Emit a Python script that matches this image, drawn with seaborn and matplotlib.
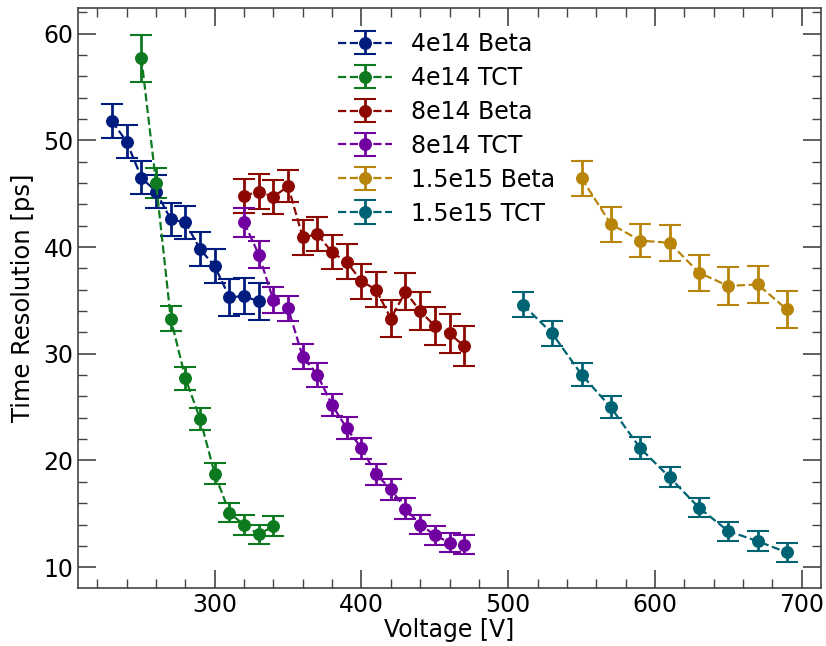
import matplotlib
matplotlib.use("Agg")
import matplotlib.pyplot as plt
from matplotlib.ticker import MultipleLocator
import seaborn as sns
import numpy as np

# ---- data ----
v_4e14_beta = [230, 240, 250, 260, 270, 280, 290, 300, 310, 320, 330]
t_4e14_beta = [51.8, 49.85, 46.5, 45.2, 42.6, 42.3, 39.8, 38.2, 35.3, 35.4, 34.9]
e_4e14_beta = [1.6, 1.55, 1.55, 1.55, 1.57, 1.57, 1.6, 1.58, 1.72, 1.72, 1.75]

v_4e14_tct = [250, 260, 270, 280, 290, 300, 310, 320, 330, 340]
t_4e14_tct = [57.7, 46.0, 33.3, 27.7, 23.9, 18.75, 15.1, 13.95, 13.07, 13.85]
e_4e14_tct = [2.2, 1.43, 1.2, 1.07, 1.05, 0.97, 0.91, 0.93, 0.86, 0.94]

v_8e14_beta = [320, 330, 340, 350, 360, 370, 380, 390, 400, 410, 420, 430, 440, 450, 460, 470]
t_8e14_beta = [44.8, 45.2, 44.7, 45.7, 40.9, 41.2, 39.5, 38.6, 36.8, 36.0, 33.3, 35.8, 34.0, 32.6, 31.9, 30.7]
e_8e14_beta = [1.6, 1.64, 1.6, 1.5, 1.6, 1.6, 1.6, 1.64, 1.64, 1.64, 1.72, 1.72, 1.8, 1.75, 1.8, 1.86]

v_8e14_tct = [320, 330, 340, 350, 360, 370, 380, 390, 400, 410, 420, 430, 440, 450, 460, 470]
t_8e14_tct = [42.3, 39.3, 35.0, 34.25, 29.7, 28.0, 25.2, 23.0, 21.15, 18.7, 17.3, 15.5, 14.0, 13.0, 12.3, 12.1]
e_8e14_tct = [1.33, 1.3, 1.22, 1.19, 1.17, 1.13, 1.07, 1.03, 1.0, 0.98, 0.96, 0.95, 0.93, 0.9, 0.9, 0.88]

v_15e15_beta = [550, 570, 590, 610, 630, 650, 670, 690]
t_15e15_beta = [46.45, 42.15, 40.6, 40.4, 37.6, 36.35, 36.5, 34.15]
e_15e15_beta = [1.64, 1.64, 1.57, 1.7, 1.68, 1.77, 1.72, 1.75]

v_15e15_tct = [510, 530, 550, 570, 590, 610, 630, 650, 670, 690]
t_15e15_tct = [34.6, 31.9, 28.05, 24.97, 21.15, 18.43, 15.58, 13.38, 12.44, 11.38]
e_15e15_tct = [1.2, 1.17, 1.1, 1.03, 1.02, 0.94, 0.91, 0.89, 0.91, 0.86]

labels = ["4e14 Beta", "4e14 TCT", "8e14 Beta", "8e14 TCT", "1.5e15 Beta", "1.5e15 TCT"]
colors = ["#001c7f", "#0d7a1f", "#8c0800", "#7000a0", "#b8850a", "#006374"]

series = [
    (v_4e14_beta, t_4e14_beta, e_4e14_beta),
    (v_4e14_tct, t_4e14_tct, e_4e14_tct),
    (v_8e14_beta, t_8e14_beta, e_8e14_beta),
    (v_8e14_tct, t_8e14_tct, e_8e14_tct),
    (v_15e15_beta, t_15e15_beta, e_15e15_beta),
    (v_15e15_tct, t_15e15_tct, e_15e15_tct),
]

sns.set_theme(style="ticks")
plt.rcParams['font.family'] = ['DejaVu Sans']
plt.rcParams['text.color'] = 'black'
plt.rcParams['axes.labelcolor'] = 'black'

fig, ax = plt.subplots(figsize=(8.26, 6.46), dpi=100)
fig.subplots_adjust(left=78.3/826, right=820.7/826, top=1-8.3/646, bottom=1-588/646)

sns.set_palette(colors)
for (v, t, e), lab, c in zip(series, labels, colors):
    ax.errorbar(v, t, yerr=e, fmt='o--', color=c, label=lab,
                markersize=8.3, linewidth=1.6, elinewidth=2.0,
                capsize=8, capthick=1.5)

ax.xaxis.set_major_locator(MultipleLocator(100))
ax.xaxis.set_minor_locator(MultipleLocator(20))
ax.yaxis.set_major_locator(MultipleLocator(10))
ax.yaxis.set_minor_locator(MultipleLocator(2))
ax.tick_params(which='both', direction='in', top=True, right=True, colors='#444444',
               labelcolor='black', labelsize=17)
ax.tick_params(which='major', length=13, width=1.2)
ax.tick_params(which='minor', length=6.5, width=1.0)
for s in ax.spines.values():
    s.set_color('#444444')
    s.set_linewidth(1.2)

ax.set_xlabel("Voltage [V]", fontsize=17, labelpad=1)
ax.set_ylabel("Time Resolution [ps]", fontsize=17.5, labelpad=6)

leg = ax.legend(loc='upper left', bbox_to_anchor=((312-78.3)/742.4, 1.004), frameon=False,
                fontsize=17, handlelength=2.3, labelspacing=0.42, borderaxespad=0.7,
                handletextpad=0.8)

fig.savefig("out.png", dpi=100)
